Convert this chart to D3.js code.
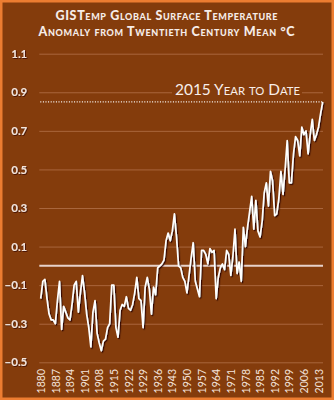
<!DOCTYPE html>
<html><head><meta charset="utf-8">
<script src="https://cdn.jsdelivr.net/npm/d3@7"></script>
<style>
html,body{margin:0;padding:0;background:#843c0c;}
svg{display:block;}
</style></head><body>
<svg id="c" width="334" height="400"></svg>
<script>
const titleLines = ["GISTemp Global Surface Temperature", "Anomaly from Twentieth Century Mean °C"];
const annotation = "2015 Year to Date";
const firstYear = 1880;
const anomalies = [
  -0.17,-0.08,-0.07,-0.17,-0.25,-0.28,-0.28,-0.30,-0.18,-0.08,
  -0.33,-0.21,-0.24,-0.27,-0.28,-0.20,-0.10,-0.08,-0.24,-0.14,
  -0.05,-0.14,-0.25,-0.32,-0.42,-0.24,-0.18,-0.35,-0.40,-0.44,
  -0.39,-0.38,-0.32,-0.30,-0.10,-0.10,-0.32,-0.37,-0.23,-0.20,
  -0.21,-0.16,-0.22,-0.23,-0.20,-0.14,-0.06,-0.17,-0.18,-0.32,
  -0.11,-0.06,-0.12,-0.25,-0.11,-0.15,-0.01, 0.00, 0.01, 0.03,
   0.13, 0.17, 0.13, 0.18, 0.27, 0.15, 0.00,-0.01,-0.06,-0.08,
  -0.14,-0.05, 0.04, 0.12,-0.08,-0.12,-0.16, 0.08, 0.08, 0.06,
   0.01, 0.09, 0.07, 0.08,-0.17,-0.06,-0.01, 0.01,-0.02, 0.08,
   0.06,-0.05, 0.05, 0.19,-0.04, 0.02,-0.08, 0.20, 0.10, 0.20,
   0.28, 0.36, 0.19, 0.34, 0.18, 0.15, 0.23, 0.38, 0.43, 0.31,
   0.49, 0.44, 0.26, 0.27, 0.35, 0.49, 0.37, 0.50, 0.65, 0.43,
   0.43, 0.58, 0.67, 0.65, 0.57, 0.72, 0.68, 0.70, 0.58, 0.68,
   0.76, 0.65, 0.68, 0.72, 0.79, 0.85
];
const years = anomalies.map((d, i) => firstYear + i);
const xTickYears = [1880,1887,1894,1901,1908,1915,1922,1929,1936,1943,1950,1957,1964,1971,1978,1985,1992,1999,2006,2013];
const yTickValues = [-0.5,-0.3,-0.1,0.1,0.3,0.5,0.7,0.9,1.1];

const W = 334, H = 400;
const svg = d3.select("#c");
const defs = svg.append("defs");
defs.append("filter").attr("id","sh").attr("x","-10%").attr("y","-10%").attr("width","120%").attr("height","120%")
  .append("feDropShadow").attr("dx",1.2).attr("dy",1.2).attr("stdDeviation",0.7)
  .attr("flood-color","#2a0600").attr("flood-opacity",0.9);
defs.append("filter").attr("id","tsh").attr("x","-10%").attr("y","-20%").attr("width","130%").attr("height","150%")
  .append("feDropShadow").attr("dx",0.8).attr("dy",0.8).attr("stdDeviation",0.4)
  .attr("flood-color","#2a0600").attr("flood-opacity",0.8);

svg.append("rect").attr("x",1.25).attr("y",1.25).attr("width",W-2.5).attr("height",H-2.5)
  .attr("fill","#843c0c").attr("stroke","#ed7d31").attr("stroke-width",2.5);

const x0 = 39.3, x1 = 323;
const x = d3.scaleLinear().domain([firstYear, years[years.length-1]]).range([40.7, 322.7]);
const y = d3.scaleLinear().domain([-0.5, 1.1]).range([362.3, 53.7]);
const labelColor = "#f4e4dc";

// title
const titleWidths = [222, 256];
const title = svg.append("g").attr("font-family","Lato, 'Open Sans', sans-serif").attr("font-weight","900")
  .attr("font-size","12.5px").attr("fill","#f6ece8").attr("text-anchor","middle")
  .style("font-variant","small-caps");
title.selectAll("text").data(titleLines).join("text")
  .attr("x",166.5).attr("y",(d,i)=>20+i*16)
  .attr("textLength",(d,i)=>titleWidths[i]).attr("lengthAdjust","spacing").text(d=>d);

// y axis with gridlines
const yAxis = svg.append("g").attr("transform",`translate(${x0},0)`)
  .call(d3.axisLeft(y).tickValues(yTickValues).tickFormat(d3.format(".1f"))
    .tickSizeInner(-(x1-x0)).tickSizeOuter(0).tickPadding(12));
yAxis.select(".domain").remove();
yAxis.selectAll(".tick line").attr("stroke","#a9663d").attr("stroke-width",1);
yAxis.selectAll(".tick text").attr("fill",labelColor).attr("font-family","Lato, sans-serif")
  .attr("font-weight","bold").attr("font-size","11.5px").attr("filter","url(#tsh)");

// x axis
const xAxis = svg.append("g").attr("transform","translate(0,366)")
  .call(d3.axisBottom(x).tickValues(xTickYears).tickFormat(d3.format("d")).tickSize(0));
xAxis.select(".domain").remove();
xAxis.selectAll(".tick text").attr("fill",labelColor).attr("font-family","Lato, sans-serif")
  .attr("font-size","10.5px").attr("transform","rotate(-90)")
  .attr("text-anchor","end").attr("x",-3).attr("y",0).attr("dy","0.35em");

// zero line
svg.append("line").attr("x1",x0).attr("x2",x1).attr("y1",y(0)).attr("y2",y(0))
  .attr("stroke","#e8d2ca").attr("stroke-width",2);

// annotation: dotted line at latest value
const latest = anomalies[anomalies.length-1];
svg.append("line").attr("x1",x0+1).attr("x2",x(years[years.length-1])).attr("y1",y(latest)).attr("y2",y(latest))
  .attr("stroke","#ffffff").attr("stroke-width",1.2).attr("stroke-dasharray","1,1.6");

// series line
svg.append("path").datum(anomalies)
  .attr("d", d3.line().x((d,i)=>x(years[i])).y(d=>y(d)))
  .attr("fill","none").attr("stroke","#ffffff").attr("stroke-width",1.7)
  .attr("stroke-linejoin","round").attr("filter","url(#sh)");

// annotation text
svg.append("rect").attr("x",172).attr("y",81).attr("width",130).attr("height",16).attr("fill","#843c0c");
svg.append("text").attr("x",175).attr("y",95).attr("font-family","Lato, sans-serif")
  .attr("font-size","15px").attr("fill","#f8eeea").style("font-variant","small-caps")
  .attr("textLength",125).attr("lengthAdjust","spacingAndGlyphs").text(annotation);
</script>
</body></html>
